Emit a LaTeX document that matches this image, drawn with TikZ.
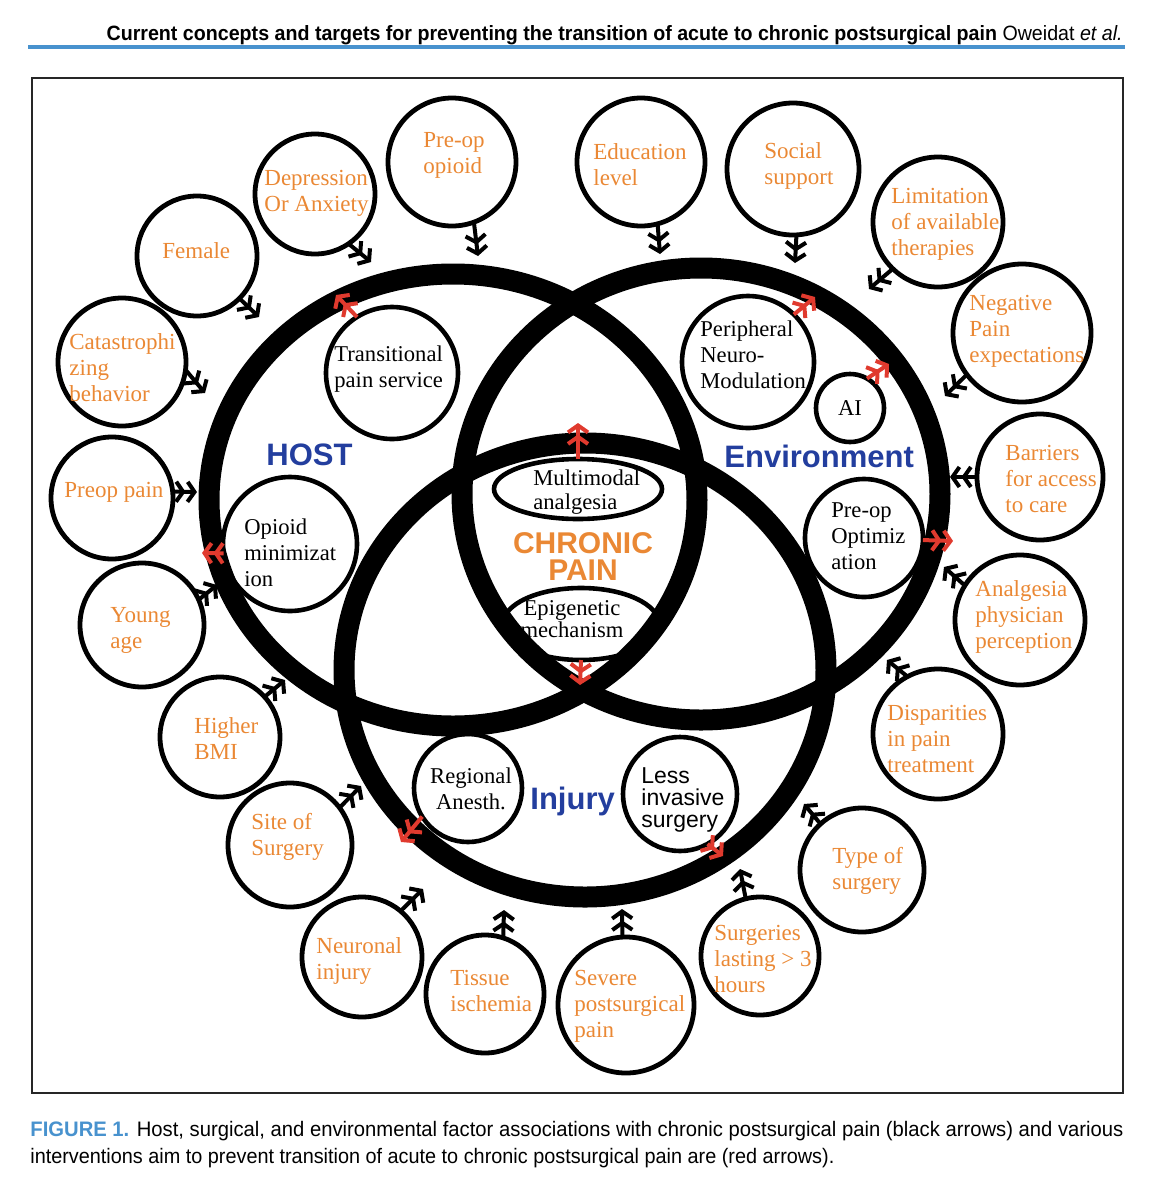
\documentclass[tikz,border=0pt]{standalone}
\usepackage{fontspec}
\setmainfont{Liberation Serif}
\setsansfont{Liberation Sans}
\usepackage{graphicx}
\usepackage{tikz}
\usetikzlibrary{arrows.meta,shapes.geometric}
\usepackage{xcolor}
\definecolor{factororange}{RGB}{234,136,52}
\definecolor{ringblue}{RGB}{35,62,158}
\definecolor{treatred}{RGB}{224,58,46}
\definecolor{rulecolor}{RGB}{72,146,206}

\begin{document}
\begin{tikzpicture}[
  x=0.5pt, y=-0.5pt,
  % Venn rings
  ring/.style={draw=black, ellipse, line width=10.5pt, inner sep=0pt, outer sep=0pt},
  ringlabel/.style={anchor=north west, inner sep=0pt, text=ringblue,
                    font=\sffamily\bfseries\fontsize{15.5}{16}\selectfont},
  % outer risk factors
  factor/.style={draw=black, circle, line width=2.4pt, inner sep=0pt, outer sep=0pt},
  factortext/.style={anchor=north west, inner sep=0pt, align=left, text=factororange,
                     font=\fontsize{11.5}{13}\selectfont},
  % inner interventions
  remedy/.style={draw=black, circle, line width=2.3pt, inner sep=0pt, outer sep=0pt,
                 font=\fontsize{11.3}{13}\selectfont},
  remedyoval/.style={remedy, ellipse},
  remedytext/.style={anchor=north west, inner sep=0pt, align=left,
                     font=\fontsize{11.3}{13}\selectfont},
  % arrows
  cause/.style={line width=2pt, draw=black,
                -{Straight Barb[length=3.5pt,width=10pt] Straight Barb[length=3.5pt,width=10pt]}},
  treat/.style={cause, draw=treatred}
]
  \useasboundingbox (0,0) rectangle (1161,1200);

  % =============================================================
  % Page header, frame and caption
  % =============================================================
  \node[anchor=base east, inner sep=0pt] (header) at (1123,40)
       {\resizebox{508pt}{7.5pt}{\sffamily\textbf{Current concepts and targets for preventing the transition of acute to chronic postsurgical pain} Oweidat \textit{et al.}}};
  \draw[rulecolor, line width=1.6pt] (28,47) -- (1125,47);
  \draw[black!85, line width=1pt] (32,78) rectangle (1123,1093);

  \node[anchor=base west, inner sep=0pt] (capA) at (30,1136)
       {\resizebox{546.5pt}{7.6pt}{\sffamily{\color{rulecolor}\bfseries FIGURE 1.} Host, surgical, and environmental factor associations with chronic postsurgical pain (black arrows) and various}};
  \node[anchor=base west, inner sep=0pt] (capB) at (30,1163)
       {\resizebox{402pt}{7.6pt}{\sffamily interventions aim to prevent transition of acute to chronic postsurgical pain are (red arrows).}};

  % =============================================================
  % Three rings
  % =============================================================
  \node[ring, minimum width=244pt, minimum height=226pt] (host) at (453,500) {};
  \node[ring, minimum width=239pt, minimum height=226pt] (envir) at (701,494) {};
  \node[ring, minimum width=241pt, minimum height=227pt] (injury) at (585,670) {};

  \node[ringlabel] (hostlbl) at (266,443) {HOST};
  \node[ringlabel] (envirlbl) at (724,445) {Environment};
  \node[ringlabel] (injurylbl) at (530,787) {Injury};
  \node[ringlabel, anchor=north, align=center, text=factororange,
        font=\sffamily\bfseries\fontsize{15}{13.6}\selectfont] (chronic) at (583,532) {CHRONIC\\PAIN};

  % =============================================================
  % Host factors (left)
  % =============================================================
  \node[factor, minimum size=64pt] (preopioid) at (452,162) {};
  \node[factortext] (preopioidtxt) at (423,132) {Pre-op\\opioid};
  \node[factor, minimum size=60pt] (depress) at (315,194) {};
  \node[factortext] (depresstxt) at (264,170) {Depression\\Or Anxiety};
  \node[factor, minimum size=60pt] (female) at (197,256) {};
  \node[factortext] (femaletxt) at (162,242) {Female};
  \node[factor, minimum size=64pt] (catastr) at (122,362) {};
  \node[factortext] (catastrtxt) at (69,333) {Catastrophi\\zing\\behavior};
  \node[factor, minimum size=61pt] (preoppain) at (112,498) {};
  \node[factortext] (preoppaintxt) at (64,482) {Preop pain};
  \node[factor, minimum size=62pt] (young) at (142,625) {};
  \node[factortext] (youngtxt) at (110,607) {Young\\age};
  \node[factor, minimum size=60pt] (bmi) at (220,737) {};
  \node[factortext] (bmitxt) at (194,717) {Higher\\BMI};

  % =============================================================
  % Injury factors (bottom)
  % =============================================================
  \node[factor, minimum size=62pt] (site) at (290,845) {};
  \node[factortext] (sitetxt) at (251,813) {Site of\\Surgery};
  \node[factor, minimum size=60pt] (neuronal) at (362,957) {};
  \node[factortext] (neuronaltxt) at (316,937) {Neuronal\\injury};
  \node[factor, minimum size=59pt] (tissue) at (485,994) {};
  \node[factortext] (tissuetxt) at (450,970) {Tissue\\ischemia};
  \node[factor, minimum size=68pt] (severe) at (626,1005) {};
  \node[factortext] (severetxt) at (574,970) {Severe\\postsurgical\\pain};
  \node[factor, minimum size=59pt] (lasting) at (760,956) {};
  \node[factortext] (lastingtxt) at (714,925) {Surgeries\\lasting > 3\\hours};
  \node[factor, minimum size=62pt] (typeof) at (862,870) {};
  \node[factortext] (typeoftxt) at (832,847) {Type of\\surgery};

  % =============================================================
  % Environment factors (right)
  % =============================================================
  \node[factor, minimum size=65pt] (dispar) at (938,734) {};
  \node[factortext] (dispartxt) at (887,705) {Disparities\\in pain\\treatment};
  \node[factor, minimum size=65pt] (analg) at (1020,620) {};
  \node[factortext] (analgtxt) at (975,580) {Analgesia\\physician\\perception};
  \node[factor, minimum size=63pt] (barrier) at (1040,477) {};
  \node[factortext] (barriertxt) at (1005,445) {Barriers\\for access\\to care};
  \node[factor, minimum size=69pt] (negative) at (1022,333) {};
  \node[factortext] (negativetxt) at (969,295) {Negative\\Pain\\expectations};
  \node[factor, minimum size=65pt] (limit) at (938,222) {};
  \node[factortext] (limittxt) at (891,188) {Limitation\\of available\\therapies};
  \node[factor, minimum size=66pt] (social) at (793,169) {};
  \node[factortext] (socialtxt) at (764,142) {Social\\support};
  \node[factor, minimum size=64pt] (edu) at (641,162) {};
  \node[factortext] (edutxt) at (593,143) {Education\\level};

  % =============================================================
  % Interventions (inside rings)
  % =============================================================
  \node[remedy, minimum size=66pt] (transit) at (392,373) {};
  \node[remedytext] (transittxt) at (334,345) {Transitional\\pain service};
  \node[remedy, minimum size=67pt] (opmin) at (290,544) {};
  \node[remedytext] (opmintxt) at (244,518) {Opioid\\minimizat\\ion};
  \node[remedy, minimum size=66pt] (peri) at (748,362) {};
  \node[remedytext] (peritxt) at (700,320) {Peripheral\\Neuro-\\Modulation};
  \node[remedy, minimum size=34pt] (ai) at (850,408) {AI};
  \node[remedy, minimum size=59pt] (preopt) at (864,538) {};
  \node[remedytext] (preopttxt) at (831,502) {Pre-op\\Optimiz\\ation};
  \node[remedyoval, minimum width=84pt, minimum height=30pt] (multi) at (578,489) {};
  \node[remedytext, font=\fontsize{11.3}{12}\selectfont] (multitxt) at (533,469) {Multimodal\\analgesia};
  \node[remedyoval, minimum width=78pt, minimum height=36pt] (epi) at (581,624) {};
  \node[remedytext, anchor=north, align=center, font=\fontsize{11.3}{11}\selectfont] (epitxt) at (572,600) {Epigenetic\\mechanism};
  \node[remedy, minimum size=54pt] (regional) at (468,788) {};
  \node[remedytext, anchor=north, align=center] (regionaltxt) at (471,767) {Regional\\Anesth.};
  \node[remedy, minimum size=57pt] (lessinv) at (680,794) {};
  \node[remedytext, font=\sffamily\fontsize{11.5}{11}\selectfont] (lessinvtxt) at (641,767) {Less\\invasive\\surgery};

  % =============================================================
  % Arrow tips on the rings
  % =============================================================
  \coordinate (tPreopioid) at (478,256);
  \coordinate (tDepress) at (371,262);
  \coordinate (tFemale) at (259,317);
  \coordinate (tCatastr) at (205,393);
  \coordinate (tPreoppain) at (197,492);
  \coordinate (tYoung) at (217,585);
  \coordinate (tBmi) at (285,680);
  \coordinate (tSite) at (361,786);
  \coordinate (tNeuronal) at (423,889);
  \coordinate (tTissue) at (504,910);
  \coordinate (tSevere) at (622,909);
  \coordinate (tLasting) at (740,869);
  \coordinate (tTypeof) at (804,804);
  \coordinate (tDispar) at (887,660);
  \coordinate (tAnalg) at (944,567);
  \coordinate (tBarrier) at (950,477);
  \coordinate (tNegative) at (945,396);
  \coordinate (tLimit) at (869,289);
  \coordinate (tSocial) at (795,263);
  \coordinate (tEdu) at (660,254);

  \coordinate (tTransit) at (336,295);
  \coordinate (tOpmin) at (202,553);
  \coordinate (tMulti) at (578,423);
  \coordinate (tEpi) at (580,685);
  \coordinate (tPeri) at (815,297);
  \coordinate (tAi) at (889,364);
  \coordinate (tPreopt) at (953,541);
  \coordinate (tRegional) at (401,842);
  \coordinate (tLessinv) at (723,856);

  % black: risk factor -> ring
  \draw[cause] (preopioid.-70) -- (tPreopioid);
  \draw[cause] (depress.-56) -- (tDepress);
  \draw[cause] (female.-45) -- (tFemale);
  \draw[cause] (catastr.-7) -- (tCatastr);
  \draw[cause] (preoppain.6) -- (tPreoppain);
  \draw[cause] (young.24) -- (tYoung);
  \draw[cause] (bmi.42) -- (tBmi);
  \draw[cause] (site.37) -- (tSite);
  \draw[cause] (neuronal.50) -- (tNeuronal);
  \draw[cause] (tissue.72) -- (tTissue);
  \draw[cause] (severe.93) -- (tSevere);
  \draw[cause] (lasting.104) -- (tLasting);
  \draw[cause] (typeof.132) -- (tTypeof);
  \draw[cause] (dispar.118) -- (tDispar);
  \draw[cause] (analg.148) -- (tAnalg);
  \draw[cause] (barrier.180) -- (tBarrier);
  \draw[cause] (negative.-143) -- (tNegative);
  \draw[cause] (limit.-134) -- (tLimit);
  \draw[cause] (social.-87) -- (tSocial);
  \draw[cause] (edu.-75) -- (tEdu);

  % red: intervention -> ring
  \draw[treat] (transit.122) -- (tTransit);
  \draw[treat] (opmin.188) -- (tOpmin);
  \draw[treat] (multi.north) -- (tMulti);
  \draw[treat] (epi.south) -- (tEpi);
  \draw[treat] (peri.46) -- (tPeri);
  \draw[treat] (ai.60) -- (tAi);
  \draw[treat] (preopt.-2) -- (tPreopt);
  \draw[treat] (regional.212) -- (tRegional);
  \draw[treat] (lessinv.-61) -- (tLessinv);
\end{tikzpicture}
\end{document}
